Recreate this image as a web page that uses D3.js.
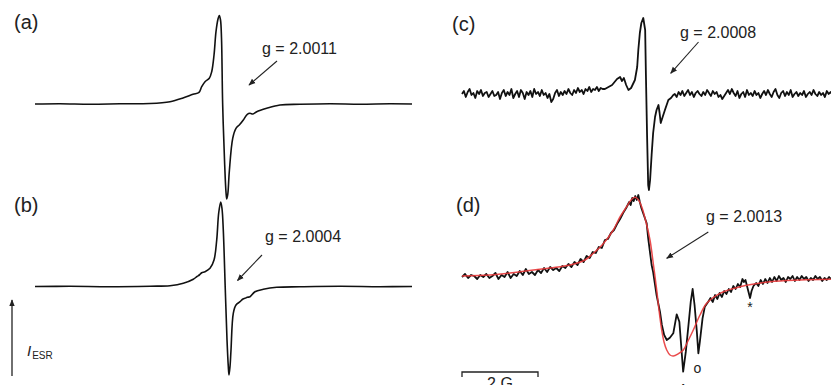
<!DOCTYPE html>
<html>
<head>
<meta charset="utf-8">
<script src="https://cdn.jsdelivr.net/npm/d3@7"></script>
<style>
  body { margin: 0; background: #fff; }
  svg { display: block; }
</style>
</head>
<body>
<svg id="chart" width="831" height="385"></svg>
<script>
// field offsets in G, intensities in arbitrary units
var fieldA = [0, 0.658, 1.447, 2.237, 3.026, 3.553, 3.895, 4.158, 4.316, 4.387, 4.474, 4.587, 4.65, 4.711, 4.763, 4.816, 4.85, 4.882, 4.908, 4.939, 4.992, 5.026, 5.047, 5.074, 5.113, 5.203, 5.289, 5.376, 5.482, 5.587, 5.658, 5.737, 5.834, 6.097, 6.447, 6.974, 7.763, 8.553, 9.342, 9.921];
var intA = [0, 0.3, -0.2, 0.2, 0.5, 2.3, 6, 9.7, 11.7, 17.3, 22.3, 25.7, 32.3, 49, 72.3, 85, 88.5, 84, 66, -1, -61, -88, -95, -90, -67.7, -34.3, -24.3, -21, -16, -10.3, -9.3, -10, -7.7, -4.3, -1, -0.3, 0.2, -0.2, 0.2, 0];

var fieldB = [0, 0.921, 1.974, 3.026, 3.553, 3.903, 4.166, 4.263, 4.324, 4.387, 4.474, 4.605, 4.711, 4.782, 4.834, 4.887, 4.921, 4.955, 5.008, 5.053, 5.087, 5.105, 5.132, 5.158, 5.218, 5.289, 5.395, 5.474, 5.526, 5.587, 5.658, 5.789, 6.008, 6.361, 6.974, 8.026, 9.079, 9.921];
var intB = [0, 0.2, -0.2, 0.3, 0.8, 3.2, 7.2, 10, 11.5, 13.8, 14.8, 18.2, 26.5, 46.5, 73.5, 84.5, 78, 56.5, -3.5, -53.5, -80, -88.5, -80, -63.5, -26.8, -18.5, -15.2, -12.5, -11.8, -10.8, -10.2, -5.2, -2.8, -0.8, -0.3, 0.2, -0.2, 0];

var fieldC = [0, 0.05, 0.1, 0.15, 0.2, 0.25, 0.3, 0.35, 0.4, 0.45, 0.5, 0.55, 0.6, 0.65, 0.7, 0.75, 0.8, 0.85, 0.9, 0.95,
  1.0, 1.05, 1.1, 1.15, 1.2, 1.25, 1.3, 1.35, 1.4, 1.45, 1.5, 1.55, 1.6, 1.65, 1.7, 1.75, 1.8, 1.85, 1.9, 1.95,
  2.0, 2.05, 2.1, 2.15, 2.2, 2.25, 2.3, 2.35, 2.4, 2.45, 2.5, 2.55, 2.6, 2.65, 2.7, 2.75, 2.8, 2.85, 2.9, 2.95,
  3.0, 3.05, 3.1, 3.15, 3.2, 3.25, 3.3, 3.35, 3.4, 3.45, 3.5, 3.55, 3.6, 3.65, 3.7,
  3.76, 3.95, 4.08, 4.16, 4.21, 4.26, 4.32, 4.38, 4.45, 4.55, 4.61, 4.64, 4.68, 4.72, 4.77, 4.82, 4.84, 4.87, 4.9, 4.92, 4.95, 4.99, 5.03, 5.08, 5.12, 5.17, 5.2, 5.23, 5.28, 5.34, 5.43, 5.5, 5.56,
  5.6, 5.65, 5.7, 5.75, 5.8, 5.85, 5.9, 5.95, 6.0, 6.05, 6.1, 6.15, 6.2, 6.25, 6.3, 6.35, 6.4, 6.45, 6.5, 6.55,
  6.6, 6.65, 6.7, 6.75, 6.8, 6.85, 6.9, 6.95, 7.0, 7.05, 7.1, 7.15, 7.2, 7.25, 7.3, 7.35, 7.4, 7.45, 7.5, 7.55,
  7.6, 7.65, 7.7, 7.75, 7.8, 7.85, 7.9, 7.95, 8.0, 8.05, 8.1, 8.15, 8.2, 8.25, 8.3, 8.35, 8.4, 8.45, 8.5, 8.55,
  8.6, 8.65, 8.7, 8.75, 8.8, 8.85, 8.9, 8.95, 9.0, 9.05, 9.1, 9.15, 9.2, 9.25, 9.3, 9.35, 9.4, 9.45, 9.5, 9.55,
  9.6, 9.65, 9.7, 9.75];
var intC = [1, 4, -2, 3, 6, 0, 2, -3, 4, 1, 5, -1, 2, 3, -2, 1, 4, -1, 0, 3,
  -4, 2, 5, -1, 3, 0, 6, -3, 1, 4, -2, 5, 2, -4, 3, 0, 4, -2, 6, 1,
  3, -1, 5, 0, 2, -3, 1, -7, -4, 2, 5, -1, 3, 0, 4, 1, 6, 2, 0, 5,
  2, 7, 3, 5, 1, 6, 4, 8, 3, 6, 5, 8, 4, 7, 6,
  6, 10, 16, 18, 14, 17, 10, 5, 7, 15, 28, 45, 62, 72, 77, 65, 20, -40, -90, -95, -85, -60, -38, -22, -15, -10, -18, -28, -22, -15, -5, -3, 0,
  1, -2, 3, 0, 4, -1, 2, 5, 0, 3, -2, 2, 4, 1, -1, 3, 0, 5, 2, -1,
  4, 1, 3, -2, 0, -4, -1, 2, 5, 1, 6, 2, -1, 4, -3, 1, 3, -2, 5, 0,
  2, -1, 4, 0, 2, -3, 1, 4, 0, 5, 1, -2, 3, 6, 0, -3, 2, 4, -1, 3,
  0, 5, -2, 1, 3, -1, 2, 0, 4, -2, 1, 3, 0, 5, 1, -1, 3, 0, 2, -2,
  4, 1, 3, 0];

var fieldD = [0, 0.08, 0.16, 0.24, 0.32, 0.4, 0.48, 0.56, 0.64, 0.72, 0.8, 0.88, 0.96, 1.04, 1.12, 1.2, 1.28, 1.36, 1.44, 1.52, 1.6, 1.68, 1.76, 1.84, 1.92, 2.0, 2.08, 2.16, 2.24, 2.32, 2.4, 2.48, 2.56, 2.64, 2.72, 2.8, 2.88, 2.96, 3.04, 3.12, 3.2, 3.28, 3.36, 3.44, 3.52, 3.6, 3.68, 3.76, 3.84, 3.92, 4.0, 4.08, 4.16, 4.24, 4.32, 4.4, 4.44, 4.48, 4.52, 4.56, 4.6, 4.64, 4.68, 4.72,
  4.86, 4.9, 4.99, 5.03, 5.12, 5.21, 5.26, 5.32, 5.39, 5.47, 5.56, 5.65, 5.72, 5.78, 5.82, 5.89, 5.96, 6.02, 6.07, 6.12, 6.18, 6.22, 6.26, 6.33, 6.39, 6.48,
  6.54, 6.6, 6.66, 6.72, 6.78, 6.84, 6.9, 6.96, 7.02, 7.08, 7.14, 7.2, 7.26, 7.32, 7.38, 7.42, 7.46, 7.5, 7.54, 7.58, 7.62, 7.67, 7.74, 7.8, 7.86, 7.92, 7.98, 8.04, 8.1, 8.16, 8.22, 8.28, 8.34, 8.4, 8.46, 8.52, 8.58, 8.64, 8.7, 8.76, 8.82, 8.88, 8.94, 9.0, 9.06, 9.12, 9.18, 9.24, 9.3, 9.36, 9.42, 9.48, 9.54, 9.6, 9.66, 9.71];
var intD = [3, 6, 2, 5, 4, 1, 5, 3, 6, 2, 4, 7, 1, 5, 3, 8, 2, 6, 4, 9, 5, 11, 6, 8, 5, 10, 7, 12, 8, 13, 10, 12, 9, 14, 12, 16, 13, 18, 15, 21, 18, 24, 22, 28, 27, 33, 32, 40, 41, 47, 50, 56, 61, 67, 72, 78, 75, 82, 79, 84, 80, 85, 78, 72,
  56.7, 41.7, 15, 8, -15, -31.7, -45, -55, -60, -57.7, -53.3, -34.3, -41.7, -71.7, -91.7, -71.7, -45, -21.7, -9, -25, -51.7, -73.3, -61.7, -38.3, -26.7, -21.7,
  -18, -22, -15, -19, -13, -17, -11, -14, -9, -12, -6, -9, -4, -7, 1, -2, 0, -6, -12, -18, -11, -6, -3, -6, 0, -4, 1, -3, 2, -2, 3, -1, 4, 0, 2, -2, 3, 1, 4, -1, 3, 0, 4, 1, 3, -1, 2, 0, 4, 1, 3, -1, 2, 0, 3, 1];

// fitted curve for (d)
var fieldFit = [0, 0.737, 1.526, 2.316, 2.842, 3.237, 3.455, 3.711, 3.982, 4.158, 4.334, 4.447, 4.553, 4.645, 4.729, 4.842, 4.947, 5.039, 5.124, 5.184, 5.255, 5.316, 5.387, 5.474, 5.561, 5.684, 5.824, 5.947, 6.087, 6.263, 6.439, 6.789, 7.316, 8.105, 8.895, 9.711];
var intFit = [4, 5, 8.3, 12, 15, 20, 26.7, 36, 50, 63, 73.3, 80, 82.7, 80, 73.3, 58, 40, 15, -10, -30, -50, -62, -70, -75, -76, -74, -70, -61, -50, -35, -23.3, -13.3, -6.7, -1.7, 0, 0.7];

var panelLabels = ["(a)", "(b)", "(c)", "(d)"];
var gLabels = ["g = 2.0011", "g = 2.0004", "g = 2.0008", "g = 2.0013"];
var markerText = ["\u0394", "o", "*"];
var markerField = [5.82, 6.22, 7.58];

var svg = d3.select("#chart");

var xL = d3.scaleLinear().domain([0, 10]).range([35, 415]);
var xR = d3.scaleLinear().domain([0, 10]).range([462, 842]);

function yScale(base) {
    return d3.scaleLinear().domain([-100, 100]).range([base + 100, base - 100]);
}

var panels = [
    {x: xL, y: yScale(104), f: fieldA, v: intA, curve: d3.curveCatmullRom, lab: [14, 29], g: [262, 53.5], arr: [277, 61, 249, 85]},
    {x: xL, y: yScale(286.5), f: fieldB, v: intB, curve: d3.curveCatmullRom, lab: [14, 212], g: [265, 242], arr: [262, 255, 237.5, 280.5]},
    {x: xR, y: yScale(95), f: fieldC, v: intC, curve: d3.curveLinear, lab: [452, 31], g: [680, 37.5], arr: [698.5, 42, 670.7, 73.3]},
    {x: xR, y: yScale(280), f: fieldD, v: intD, curve: d3.curveLinear, lab: [456, 212], g: [706, 221.5], arr: [708.3, 232, 666.7, 258.3]}
];

svg.append("defs").append("marker")
    .attr("id", "head")
    .attr("viewBox", "0 0 10 10")
    .attr("refX", 9).attr("refY", 5)
    .attr("markerWidth", 7).attr("markerHeight", 7)
    .attr("markerUnits", "userSpaceOnUse")
    .attr("orient", "auto")
    .append("path")
    .attr("d", "M0,1 L10,5 L0,9 Z")
    .attr("fill", "#222");

panels.forEach(function (p, i) {
    var pts = p.f.map(function (f, k) { return [f, p.v[k]]; });
    var line = d3.line()
        .x(function (d) { return p.x(d[0]); })
        .y(function (d) { return p.y(d[1]); })
        .curve(p.curve);
    svg.append("path")
        .attr("d", line(pts))
        .attr("fill", "none")
        .attr("stroke", "#111")
        .attr("stroke-width", i < 2 ? 1.6 : 1.8)
        .attr("stroke-linejoin", "round");

    svg.append("text")
        .attr("x", p.lab[0]).attr("y", p.lab[1])
        .attr("font-family", "Liberation Sans, Arial, sans-serif")
        .attr("font-size", 20)
        .attr("fill", "#222")
        .text(panelLabels[i]);

    svg.append("text")
        .attr("x", p.g[0]).attr("y", p.g[1])
        .attr("font-family", "Liberation Sans, Arial, sans-serif")
        .attr("font-size", 16)
        .attr("fill", "#222")
        .text(gLabels[i]);

    svg.append("line")
        .attr("x1", p.arr[0]).attr("y1", p.arr[1])
        .attr("x2", p.arr[2]).attr("y2", p.arr[3])
        .attr("stroke", "#222")
        .attr("stroke-width", 1.1)
        .attr("marker-end", "url(#head)");
});

// red fit over the (d) trace
var pd = panels[3];
var fitLine = d3.line()
    .x(function (d) { return pd.x(d[0]); })
    .y(function (d) { return pd.y(d[1]); })
    .curve(d3.curveCatmullRom);
svg.append("path")
    .attr("d", fitLine(fieldFit.map(function (f, k) { return [f, intFit[k]]; })))
    .attr("fill", "none")
    .attr("stroke", "#e8393a")
    .attr("stroke-width", 1.5)
    .attr("stroke-opacity", 0.9);

// feature markers below the (d) trace
var markerDy = [22, 20, 14];
markerText.forEach(function (t, i) {
    var k = fieldD.indexOf(markerField[i]);
    svg.append("text")
        .attr("x", pd.x(markerField[i]) + (i == 1 ? -1 : 0))
        .attr("y", pd.y(intD[k]) + markerDy[i])
        .attr("text-anchor", "middle")
        .attr("font-family", "Liberation Sans, Arial, sans-serif")
        .attr("font-size", 14)
        .attr("fill", "#222")
        .text(t);
});

// 2 G scale bar
var sb = svg.append("g");
var sbY = 372;
sb.append("path")
    .attr("d", "M" + xR(0) + "," + (sbY + 5) + "V" + sbY + "H" + xR(2) + "V" + (sbY + 5))
    .attr("fill", "none")
    .attr("stroke", "#222")
    .attr("stroke-width", 1.3);
sb.append("text")
    .attr("x", (xR(0) + xR(2)) / 2).attr("y", sbY + 17)
    .attr("text-anchor", "middle")
    .attr("font-family", "Liberation Sans, Arial, sans-serif")
    .attr("font-size", 16)
    .attr("fill", "#222")
    .text("2 G");

// intensity arrow
svg.append("line")
    .attr("x1", 12).attr("y1", 376)
    .attr("x2", 12).attr("y2", 300)
    .attr("stroke", "#222")
    .attr("stroke-width", 1.3)
    .attr("marker-end", "url(#head)");
var lab = svg.append("text")
    .attr("x", 27).attr("y", 356)
    .attr("font-family", "Liberation Sans, Arial, sans-serif")
    .attr("fill", "#222");
lab.append("tspan").attr("font-size", 15).attr("font-style", "italic").text("I");
lab.append("tspan").attr("font-size", 10).attr("dx", 1).attr("dy", 3).text("ESR");
</script>
</body>
</html>
